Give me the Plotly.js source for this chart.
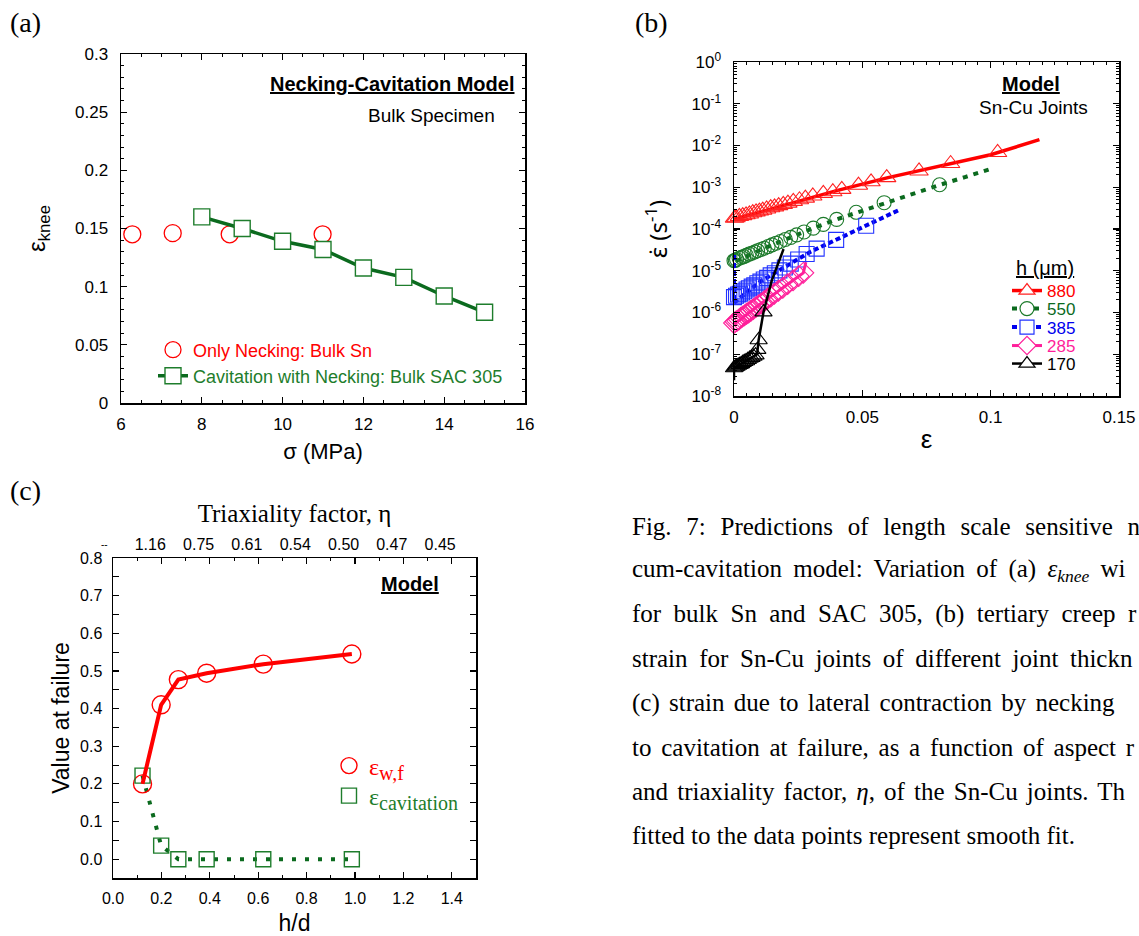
<!DOCTYPE html>
<html><head><meta charset="utf-8">
<script src="https://cdn.plot.ly/plotly-3.0.1.min.js"></script>
<style>html,body{margin:0;padding:0;background:#fff;overflow:hidden}#chart{width:1139px;height:936px}</style>
</head><body><div id="chart"></div>
<script>
// ---------- (a) epsilon_knee vs stress ----------
const sigmaSn = [6.28, 7.28, 8.69, 10.99];
const kneeSn = [0.145, 0.146, 0.145, 0.145];
const sigmaSAC = [8, 9, 10, 11, 12, 13, 14, 15];
const kneeSAC = [0.160, 0.150, 0.139, 0.132, 0.116, 0.108, 0.092, 0.078];

// ---------- (b) strain rate vs strain (markers) ----------
const strain880 = [0.0002,0.0008,0.0021,0.0034,0.0047,0.006,0.0073,0.0086,0.0099,0.0112,0.0127,0.0143,0.0158,0.0174,0.0192,0.021,0.0231,0.0255,0.0278,0.0307,0.0348,0.0385,0.042,0.0485,0.0534,0.0595,0.0721,0.0844,0.1027];
const rate880 = [1.82e-4,1.86e-4,2.0e-4,2.09e-4,2.19e-4,2.29e-4,2.45e-4,2.57e-4,2.69e-4,2.82e-4,3.02e-4,3.24e-4,3.39e-4,3.63e-4,3.89e-4,4.17e-4,4.57e-4,5.01e-4,5.5e-4,6.17e-4,7.1e-4,7.8e-4,8.9e-4,1.12e-3,1.35e-3,1.7e-3,2.45e-3,3.7e-3,6.8e-3];
const strain550 = [0,0.0005,0.001,0.002,0.0029,0.0038,0.0048,0.0059,0.0069,0.0081,0.0092,0.0105,0.0118,0.0133,0.0148,0.0164,0.0181,0.02,0.0221,0.0244,0.0273,0.0309,0.0348,0.04,0.0476,0.0585,0.0801];
const rate550 = [1.74e-5,1.78e-5,1.86e-5,2.0e-5,2.09e-5,2.19e-5,2.34e-5,2.51e-5,2.63e-5,2.82e-5,3.02e-5,3.24e-5,3.47e-5,3.8e-5,4.17e-5,4.57e-5,5.01e-5,5.62e-5,6.31e-5,7.24e-5,8.51e-5,1.05e-4,1.29e-4,1.7e-4,2.51e-4,4.27e-4,1.15e-3];
const strain385 = [0,0.0008,0.0016,0.0023,0.0031,0.004,0.0049,0.0058,0.0069,0.0079,0.0091,0.0103,0.0116,0.0129,0.0143,0.0159,0.0177,0.0198,0.0221,0.025,0.0283,0.0322,0.0398,0.0515];
const rate385 = [2.34e-6,2.51e-6,2.69e-6,2.82e-6,3.02e-6,3.24e-6,3.55e-6,3.8e-6,4.17e-6,4.47e-6,5.01e-6,5.5e-6,6.17e-6,6.76e-6,7.76e-6,8.71e-6,1.02e-5,1.2e-5,1.48e-5,1.86e-5,2.51e-5,3.39e-5,5.5e-5,1.2e-4];
const strain285 = [0,0.0006,0.0012,0.0019,0.0026,0.0033,0.0041,0.0049,0.0057,0.0066,0.0075,0.0085,0.0095,0.0106,0.0118,0.013,0.0143,0.0157,0.0173,0.019,0.0209,0.023,0.0252,0.027];
const rate285 = [5.62e-7,6.03e-7,6.31e-7,6.76e-7,7.41e-7,7.94e-7,8.51e-7,9.33e-7,1.0e-6,1.1e-6,1.2e-6,1.35e-6,1.48e-6,1.66e-6,1.86e-6,2.14e-6,2.4e-6,2.82e-6,3.31e-6,3.89e-6,4.79e-6,5.89e-6,7.41e-6,8.91e-6];
const strain170 = [0,0.0005,0.001,0.0016,0.0022,0.0028,0.0034,0.004,0.0047,0.0054,0.0061,0.0068,0.0076,0.0084,0.0091,0.0096,0.0115];
const rate170 = [4.68e-8,4.9e-8,5.13e-8,5.37e-8,5.62e-8,5.89e-8,6.31e-8,6.61e-8,6.92e-8,7.41e-8,7.94e-8,8.32e-8,8.91e-8,9.55e-8,1.29e-7,2.2e-7,1.02e-6];

// ---------- (b) model fit curves ----------
const fitStrain880 = [0, 0.02, 0.04, 0.06, 0.08, 0.1, 0.119];
const fitRate880 = [1.7e-4, 3.8e-4, 8.3e-4, 1.7e-3, 3.16e-3, 6.0e-3, 1.38e-2];
const fitStrain550 = [0, 0, 0.01, 0.02, 0.03, 0.04, 0.05, 0.06, 0.07, 0.08, 0.09, 0.1004];
const fitRate550 = [2.6e-5, 1.6e-5, 3.1e-5, 5.6e-5, 1.0e-4, 1.7e-4, 2.75e-4, 4.5e-4, 7.2e-4, 1.13e-3, 1.75e-3, 2.8e-3];
const fitStrain385 = [0, 0, 0.01, 0.02, 0.03, 0.04, 0.05, 0.0648];
const fitRate385 = [2.4e-5, 1.7e-6, 5.4e-6, 1.22e-5, 2.9e-5, 5.6e-5, 1.1e-4, 2.95e-4];
const fitStrain285 = [0, 0.01, 0.02, 0.027, 0.028];
const fitRate285 = [5.2e-7, 1.55e-6, 4.3e-6, 8.9e-6, 1.6e-5];
const fitStrain170 = [0, 0, 0.0045, 0.009, 0.0096, 0.0115, 0.0147, 0.0193];
const fitRate170 = [2.4e-8, 4.7e-8, 6.8e-8, 1.0e-7, 2.2e-7, 1.02e-6, 5.8e-6, 3.3e-5];
const thicknessLabels = ['880', '550', '385', '285', '170'];
const rateTickVals = [1e-8, 1e-7, 1e-6, 1e-5, 1e-4, 1e-3, 1e-2, 1e-1, 1];
const rateTickText = ['10<sup>-8</sup>','10<sup>-7</sup>','10<sup>-6</sup>','10<sup>-5</sup>','10<sup>-4</sup>','10<sup>-3</sup>','10<sup>-2</sup>','10<sup>-1</sup>','10<sup>0</sup>'];

// ---------- (c) value at failure vs h/d ----------
const hdRatio = [0.122, 0.199, 0.27, 0.387, 0.621, 0.987];
const epsWf = [0.200, 0.410, 0.477, 0.494, 0.518, 0.545];
const epsCav = [0.222, 0.036, 0.000, 0.000, 0.000, 0.000];
const etaTickPos = [0.154, 0.354, 0.553, 0.753, 0.953, 1.152, 1.352];
const etaLabels = ['1.16', '0.75', '0.61', '0.54', '0.50', '0.47', '0.45'];

// ---------- caption (justified lines, word spacing in px per line) ----------
const captionLines = [
  'Fig. 7: Predictions of length scale sensitive n',
  'cum-cavitation model: Variation of (a) <i>ε<sub>knee</sub></i> wi',
  'for bulk Sn and SAC 305, (b) tertiary creep r',
  'strain for Sn-Cu joints of different joint thickn',
  '(c) strain due to lateral contraction by necking',
  'to cavitation at failure, as a function of aspect r',
  'and triaxiality factor, <i>η</i>, of the Sn-Cu joints. Th',
  'fitted to the data points represent smooth fit.'
];
const captionWordSpacing = [8.5, 5, 6.2, 5.4, 3, 3.5, 2.9, 0];

// ---------- helpers for layout ----------
const W = 1139, H = 936;
const px = v => v / W;
const py = v => 1 - v / H;
const SANS = 'Liberation Sans, Arial, sans-serif';
const SERIF = 'Liberation Serif, Times New Roman, serif';
const RED = '#ff0000', DGREEN = '#0b6a1e', GREEN = '#1e7d2c', BLUE = '#0000ee', PINK = '#ff1f9a';

const minorLog = [];
for (let e = -8; e < 0; e++) for (let d = 2; d <= 9; d++) minorLog.push(d * Math.pow(10, e));

const axisBase = {
  showline: true, linecolor: '#000', linewidth: 1.5, mirror: 'allticks',
  ticks: 'inside', ticklen: 6, tickwidth: 1.2, tickcolor: '#000',
  showgrid: false, zeroline: false,
  tickfont: {family: SANS, size: 17, color: '#000'}
};
const minorBase = {ticks: 'inside', ticklen: 3, tickwidth: 1, tickcolor: '#000', showgrid: false};

const traces = [];
// (a)
traces.push({x: sigmaSn, y: kneeSn, xaxis: 'x', yaxis: 'y', mode: 'markers', name: 'Only Necking: Bulk Sn', legend: 'legend',
  marker: {symbol: 'circle-open', size: 17, color: RED, line: {width: 1.3}}});
traces.push({x: sigmaSAC, y: kneeSAC, xaxis: 'x', yaxis: 'y', mode: 'lines+markers', name: 'Cavitation with Necking: Bulk SAC 305', legend: 'legend2',
  line: {color: DGREEN, width: 3.5}, marker: {symbol: 'square', size: 16, color: '#fff', line: {color: GREEN, width: 1.4}}});

// (b)
const bSeries = [
  {fx: fitStrain880, fy: fitRate880, mx: strain880, my: rate880, color: RED, mcolor: '#f22', sym: 'triangle-up-open', ms: 16, dash: 'solid', lw: 3.5, leg: 'legend3'},
  {fx: fitStrain550, fy: fitRate550, mx: strain550, my: rate550, color: DGREEN, mcolor: '#1c7a2a', sym: 'circle-open', ms: 14, dash: '5px,6px', lw: 4, leg: 'legend4'},
  {fx: fitStrain385, fy: fitRate385, mx: strain385, my: rate385, color: BLUE, mcolor: '#2233ff', sym: 'square-open', ms: 15, dash: '5px,3px', lw: 4, leg: 'legend5'},
  {fx: fitStrain285, fy: fitRate285, mx: strain285, my: rate285, color: PINK, mcolor: PINK, sym: 'diamond-open', ms: 16, dash: 'solid', lw: 3, leg: 'legend6'},
  {fx: fitStrain170, fy: fitRate170, mx: strain170, my: rate170, color: '#000', mcolor: '#000', sym: 'triangle-up-open', ms: 15, dash: 'solid', lw: 2.5, leg: 'legend7'}
];
bSeries.forEach((s, i) => {
  traces.push({x: s.fx, y: s.fy, xaxis: 'x2', yaxis: 'y2', mode: 'lines', showlegend: false,
    line: {color: s.color, width: s.lw, dash: s.dash}});
  traces.push({x: s.mx, y: s.my, xaxis: 'x2', yaxis: 'y2', mode: 'markers', showlegend: false, cliponaxis: false,
    marker: {symbol: s.sym, size: s.ms, color: s.mcolor, line: {width: 1.1}}});
  traces.push({x: [null], y: [null], xaxis: 'x2', yaxis: 'y2', mode: 'lines+markers', name: thicknessLabels[i], legend: s.leg,
    line: {color: s.color, width: s.lw, dash: s.dash},
    marker: {symbol: s.sym.replace('-open', ''), size: 14, color: '#fff', line: {color: s.mcolor, width: 1.2}}});
});

// (c)  (red curve is drawn on the top h/d axis, which shares the same range)
traces.push({x: hdRatio, y: epsCav, xaxis: 'x3', yaxis: 'y3', mode: 'lines', showlegend: false,
  line: {color: DGREEN, width: 4, dash: '4px,9px'}});
traces.push({x: hdRatio, y: epsWf, xaxis: 'x4', yaxis: 'y3', mode: 'lines', showlegend: false,
  line: {color: RED, width: 4}});
traces.push({x: hdRatio, y: epsWf, xaxis: 'x3', yaxis: 'y3', mode: 'markers', showlegend: false, cliponaxis: false,
  marker: {symbol: 'circle-open', size: 18, color: RED, line: {width: 1.4}}});
traces.push({x: hdRatio, y: epsCav, xaxis: 'x3', yaxis: 'y3', mode: 'markers', showlegend: false, cliponaxis: false,
  marker: {symbol: 'square-open', size: 15, color: GREEN, line: {width: 1.4}}});
traces.push({x: [null], y: [null], xaxis: 'x3', yaxis: 'y3', mode: 'markers', legend: 'legend8',
  name: 'ε<sub><span style="font-size:20px">w,f</span></sub>',
  marker: {symbol: 'circle-open', size: 16, color: RED, line: {width: 1.4}}});
traces.push({x: [null], y: [null], xaxis: 'x3', yaxis: 'y3', mode: 'markers', legend: 'legend9',
  name: 'ε<sub><span style="font-size:20px">cavitation</span></sub>',
  marker: {symbol: 'square-open', size: 15, color: GREEN, line: {width: 1.4}}});

const legBase = {xref: 'paper', yref: 'paper', xanchor: 'left', yanchor: 'middle', bgcolor: 'rgba(0,0,0,0)', borderwidth: 0, itemclick: false, itemdoubleclick: false};
const leg = (x, y, color, size, family) => Object.assign({}, legBase, {x: px(x), y: py(y), font: {family: family || SANS, size: size, color: color}});

const annotations = [];
const ann = (text, x, y, size, opts) => annotations.push(Object.assign({
  text: text, xref: 'paper', yref: 'paper', x: px(x), y: py(y), xanchor: 'center', yanchor: 'middle',
  showarrow: false, font: {family: SANS, size: size, color: '#000'}}, opts || {}));

ann('(a)', 8, 22, 28, {xanchor: 'left', font: {family: SERIF, size: 28, color: '#000'}});
ann('(b)', 633, 22, 28, {xanchor: 'left', font: {family: SERIF, size: 28, color: '#000'}});
ann('(c)', 8, 490, 28, {xanchor: 'left', font: {family: SERIF, size: 28, color: '#000'}});
ann('Necking-Cavitation Model', 392, 84, 20, {font: {family: SANS, size: 20, weight: 'bold', lineposition: 'under', color: '#000'}});
ann('Bulk Specimen', 431, 115, 19);
ann('Model', 1031, 84, 20, {font: {family: SANS, size: 20, weight: 'bold', lineposition: 'under', color: '#000'}});
ann('Sn-Cu Joints', 1033, 107, 19);
ann('h (μm)', 1045, 268, 20, {font: {family: SANS, size: 20, lineposition: 'under', color: '#000'}});
ann('Model', 410, 584, 20, {font: {family: SANS, size: 20, weight: 'bold', lineposition: 'under', color: '#000'}});
ann('--', 104, 544, 10);
captionLines.forEach((t, i) => ann('<span style="word-spacing:' + captionWordSpacing[i] + 'px">' + t + '</span>',
  630, 526 + 44.2 * i, 25, {xanchor: 'left', align: 'left', font: {family: SERIF, size: 25, color: '#000'}}));

const layout = {
  width: W, height: H, margin: {l: 0, r: 0, t: 0, b: 0},
  paper_bgcolor: '#fff', plot_bgcolor: '#fff',
  font: {family: SANS, color: '#000'},
  xaxis: Object.assign({}, axisBase, {domain: [px(121), px(525)], anchor: 'y', range: [6, 16], dtick: 2, tick0: 0,
    minor: Object.assign({}, minorBase, {dtick: 0.5}), ticklabelstandoff: 5,
    title: {text: 'σ (MPa)', font: {family: SANS, size: 22}, standoff: 10}}),
  yaxis: Object.assign({}, axisBase, {domain: [py(403), py(54)], anchor: 'x', range: [0, 0.3], dtick: 0.05,
    minor: Object.assign({}, minorBase, {dtick: 0.01}), ticklabelstandoff: 8,
    title: {text: 'ε<sub>knee</sub>', font: {family: SANS, size: 24}, standoff: 22}}),
  xaxis2: Object.assign({}, axisBase, {domain: [px(734), px(1119)], anchor: 'y2', range: [0, 0.15], dtick: 0.05,
    minor: Object.assign({}, minorBase, {dtick: 0.005}), ticklabelstandoff: 5,
    title: {text: 'ε', font: {family: SANS, size: 26}, standoff: 4}}),
  yaxis2: Object.assign({}, axisBase, {domain: [py(396), py(62)], anchor: 'x2', type: 'log', range: [-8, 0],
    tickmode: 'array', tickvals: rateTickVals, ticktext: rateTickText,
    minor: Object.assign({}, minorBase, {tickmode: 'array', tickvals: minorLog}), ticklabelstandoff: 8,
    title: {text: 'ε̇ (s<sup>-1</sup>)', font: {family: 'Noto Sans, DejaVu Sans, sans-serif', size: 24}, standoff: 17}}),
  xaxis3: Object.assign({}, axisBase, {domain: [px(113), px(476)], anchor: 'y3', range: [0, 1.5], dtick: 0.2, tick0: 0, tickformat: '.1f',
    minor: Object.assign({}, minorBase, {dtick: 0.1}), ticklabelstandoff: 5, tickfont: {family: SANS, size: 16, color: '#000'},
    title: {text: 'h/d', font: {family: SANS, size: 23}, standoff: 12}}),
  yaxis3: Object.assign({}, axisBase, {domain: [py(878), py(558)], anchor: 'x3', range: [-0.05, 0.8], dtick: 0.1, tick0: 0, tickformat: '.1f',
    minor: Object.assign({}, minorBase, {dtick: 0.05}), ticklabelstandoff: 6, tickfont: {family: SANS, size: 16, color: '#000'},
    title: {text: 'Value at failure', font: {family: SANS, size: 23}, standoff: 4}}),
  xaxis4: {overlaying: 'x3', anchor: 'y3', side: 'top', range: [0, 1.5], showline: false, showgrid: false, zeroline: false,
    ticks: '', tickmode: 'array', tickvals: etaTickPos, ticktext: etaLabels, ticklabelstandoff: 4,
    tickfont: {family: SANS, size: 16, color: '#000'},
    title: {text: 'Triaxiality factor, η', font: {family: SERIF, size: 25, color: '#000'}, standoff: 6}},
  legend: leg(153, 350, RED, 18),
  legend2: leg(153, 376, GREEN, 18),
  legend3: leg(1007, 291, RED, 17),
  legend4: leg(1007, 309, DGREEN, 17),
  legend5: leg(1007, 327.5, BLUE, 17),
  legend6: leg(1007, 346, PINK, 17),
  legend7: leg(1007, 364, '#000', 17),
  legend8: leg(329, 766, RED, 24, SERIF),
  legend9: leg(329, 796, GREEN, 24, SERIF),
  annotations: annotations,
  showlegend: true
};

Plotly.newPlot('chart', traces, layout, {displayModeBar: false, staticPlot: true});
</script>
</body></html>
